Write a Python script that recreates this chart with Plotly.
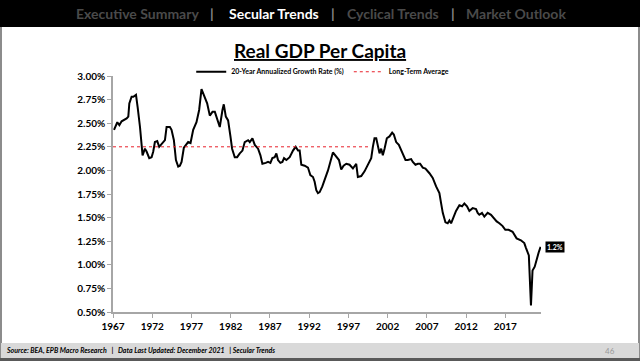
import plotly.graph_objects as go

# ---- data ----
years = [1967.13, 1967.55, 1967.81, 1968.10, 1968.74, 1968.95, 1969.08, 1969.37, 1969.59, 1969.93,
         1970.14, 1970.44, 1970.77, 1971.07, 1971.28, 1971.62, 1971.92, 1972.13, 1972.34, 1972.64,
         1972.89, 1973.19, 1973.62, 1973.83, 1974.25, 1974.46, 1974.76, 1975.02, 1975.31, 1975.52,
         1975.74, 1976.03, 1976.46, 1976.58, 1976.88, 1977.22, 1977.64, 1977.98, 1978.28, 1978.70,
         1979.00, 1979.34, 1979.68, 1979.98, 1980.40, 1980.61, 1980.95, 1981.12, 1981.38, 1981.67,
         1981.97, 1982.18, 1982.52, 1982.82, 1983.16, 1983.50, 1983.79, 1984.22, 1984.43, 1984.77,
         1985.07, 1985.49, 1985.79, 1986.04, 1986.47, 1986.76, 1987.06, 1987.31, 1987.61, 1987.82,
         1988.03, 1988.33, 1988.59, 1988.80, 1989.10, 1989.52, 1989.94, 1990.28, 1990.58, 1990.79,
         1991.00, 1991.43, 1991.85, 1992.15, 1992.49, 1992.70, 1992.91, 1993.12, 1993.34, 1993.68,
         1993.97, 1994.40, 1995.03, 1995.46, 1995.80, 1996.09, 1996.39, 1996.73, 1997.15, 1997.58,
         1997.79, 1998.00, 1998.21, 1998.64, 1999.06, 1999.49, 1999.70, 1999.91, 2000.12, 2000.33,
         2000.55, 2000.76, 2000.97, 2001.18, 2001.39, 2001.61, 2001.90, 2002.24, 2002.58, 2002.79,
         2003.09, 2003.43, 2003.73, 2003.94, 2004.28, 2004.57, 2005.00, 2005.21, 2005.55, 2005.85,
         2006.14, 2006.48, 2006.82, 2007.33, 2007.75, 2008.18, 2008.60, 2008.82, 2009.03, 2009.37,
         2009.66, 2009.88, 2010.09, 2010.38, 2010.72, 2011.15, 2011.49, 2011.78, 2012.12, 2012.42,
         2012.84, 2013.27, 2013.48, 2013.69, 2014.03, 2014.33, 2014.75, 2015.18, 2015.47, 2015.90,
         2016.24, 2016.66, 2017.00, 2017.42, 2017.93, 2018.44, 2018.99, 2019.42, 2019.63, 2019.84,
         2020.00, 2020.27, 2020.47, 2020.75, 2021.00, 2021.25, 2021.50]
growth = [2.43, 2.51, 2.48, 2.52, 2.55, 2.57, 2.71, 2.78, 2.78, 2.80,
          2.67, 2.46, 2.16, 2.23, 2.20, 2.13, 2.14, 2.20, 2.30, 2.31,
          2.25, 2.28, 2.32, 2.46, 2.46, 2.43, 2.32, 2.11, 2.04, 2.05,
          2.09, 2.24, 2.28, 2.30, 2.29, 2.43, 2.51, 2.64, 2.86, 2.78,
          2.71, 2.58, 2.62, 2.62, 2.50, 2.46, 2.64, 2.70, 2.57, 2.53,
          2.36, 2.23, 2.14, 2.14, 2.18, 2.21, 2.30, 2.32, 2.30, 2.34,
          2.27, 2.23, 2.16, 2.07, 2.08, 2.09, 2.08, 2.13, 2.14, 2.18,
          2.11, 2.08, 2.09, 2.13, 2.11, 2.14, 2.21, 2.25, 2.21, 2.21,
          2.06, 2.05, 2.03, 1.95, 1.93, 1.88, 1.79, 1.76, 1.77, 1.83,
          1.90, 2.00, 2.19, 2.14, 2.11, 2.01, 2.05, 2.07, 2.06, 2.02,
          2.05, 2.07, 1.93, 1.94, 1.99, 2.06, 2.11, 2.13, 2.25, 2.34,
          2.34, 2.27, 2.18, 2.23, 2.16, 2.23, 2.34, 2.36, 2.40, 2.38,
          2.30, 2.27, 2.21, 2.16, 2.11, 2.11, 2.12, 2.09, 2.06, 2.07,
          2.07, 2.03, 2.02, 1.97, 1.92, 1.83, 1.76, 1.65, 1.55, 1.45,
          1.44, 1.47, 1.44, 1.50, 1.57, 1.63, 1.62, 1.65, 1.62, 1.57,
          1.60, 1.59, 1.55, 1.53, 1.55, 1.51, 1.55, 1.53, 1.50, 1.46,
          1.44, 1.41, 1.37, 1.37, 1.35, 1.28, 1.26, 1.23, 1.18, 1.13,
          1.10, 0.57, 0.94, 0.98, 1.07, 1.13, 1.19]

avg_years = [1967.0, 1999.75]
avg_value = [2.25, 2.25]

x_ticks = [1967, 1972, 1977, 1982, 1987, 1992, 1997, 2002, 2007, 2012, 2017]
y_ticks = [0.50, 0.75, 1.00, 1.25, 1.50, 1.75, 2.00, 2.25, 2.50, 2.75, 3.00]
last_label = "1.2%"

FONT = "Lato"

fig = go.Figure()
fig.add_trace(go.Scatter(x=years, y=growth, mode="lines",
                         name="<b>20-Year Annualized Growth Rate (%)</b>",
                         line=dict(color="black", width=2)))
fig.add_trace(go.Scatter(x=avg_years, y=avg_value, mode="lines",
                         name="<b>Long-Term Average</b>",
                         line=dict(color="#e8202a", width=1, dash="dot")))

# plot area in pixels: x 113..541, y 76..312
L, R, T, B = 113, 541, 76, 312
W, H = R - L, B - T
def px(x): return (x - L) / W
def py(y): return (B - y) / H

shapes = [
    # slide frame
    dict(type="rect", xref="paper", yref="paper", x0=px(1), x1=px(639), y0=py(359), y1=py(26),
         line=dict(color="#8c8c8c", width=2), fillcolor="rgba(0,0,0,0)", layer="below"),
    # header bar
    dict(type="rect", xref="paper", yref="paper", x0=px(0), x1=px(640), y0=py(27), y1=py(0),
         line=dict(width=0), fillcolor="black", layer="below"),
    # footer bar
    dict(type="rect", xref="paper", yref="paper", x0=px(1), x1=px(639), y0=py(358), y1=py(343),
         line=dict(width=0), fillcolor="#d9d9d9", layer="below"),
    dict(type="line", xref="paper", yref="paper", x0=px(0), x1=px(640), y0=py(359.5), y1=py(359.5),
         line=dict(color="#595959", width=3)),
]

anns = []
hdr = [("Executive Summary", 137, "#4a4a4a"), ("|", 212, "#8a8a8a"),
       ("Secular Trends", 274, "white"), ("|", 333, "#8a8a8a"),
       ("Cyclical Trends", 393, "#4a4a4a"), ("|", 453, "#8a8a8a"),
       ("Market Outlook", 516, "#4a4a4a")]
for t, x, c in hdr:
    anns.append(dict(text=f"<b>{t}</b>", x=px(x), y=py(13.5), xref="paper", yref="paper",
                     showarrow=False, xanchor="center", yanchor="middle",
                     font=dict(family=FONT, size=14, color=c)))
anns.append(dict(text="<b><u>Real GDP Per Capita</u></b>", x=px(320), y=py(50), xref="paper", yref="paper",
                 showarrow=False, xanchor="center", yanchor="middle",
                 font=dict(family=FONT, size=19, color="black")))
anns.append(dict(text="<b><i>Source: BEA, EPB Macro Research   |   Data Last Updated: December 2021   | Secular Trends</i></b>",
                 x=px(4), y=py(350.5), xref="paper", yref="paper", showarrow=False,
                 xanchor="left", yanchor="middle", font=dict(family=FONT, size=7, color="black")))
anns.append(dict(text="46", x=px(617), y=py(350.5), xref="paper", yref="paper", showarrow=False,
                 xanchor="right", yanchor="middle", font=dict(family=FONT, size=8, color="#9a9a9a")))
anns.append(dict(text=f"<b>{last_label}</b>", x=years[-1], y=growth[-1], xref="x", yref="y",
                 showarrow=False, xanchor="left", yanchor="middle", xshift=4,
                 bgcolor="black", borderpad=1,
                 font=dict(family=FONT, size=7, color="white")))

fig.update_layout(
    width=640, height=361,
    margin=dict(l=L, r=640 - R, t=T, b=361 - B),
    paper_bgcolor="white", plot_bgcolor="white",
    showlegend=True,
    legend=dict(orientation="h", x=0.49, y=1.018, xanchor="center", yanchor="middle",
                font=dict(family=FONT, size=7, color="black"), bgcolor="rgba(0,0,0,0)",
                itemwidth=30, tracegroupgap=0),
    shapes=shapes, annotations=anns,
    font=dict(family=FONT),
)
fig.update_xaxes(range=[1967, 2021.55], tickvals=x_ticks, ticktext=[f"<b>{v}</b>" for v in x_ticks],
                 showgrid=False, zeroline=False, showline=True, linecolor="#a6a6a6", linewidth=1.5,
                 ticks="outside", ticklen=4, tickcolor="#a6a6a6",
                 tickfont=dict(family=FONT, size=10, color="black"))
fig.update_yaxes(range=[0.5, 3.0], tickvals=y_ticks, ticktext=[f"<b>{v:.2f}%</b>" for v in y_ticks],
                 showgrid=False, zeroline=False, showline=True, linecolor="#a6a6a6", linewidth=1.5,
                 ticks="outside", ticklen=4, tickcolor="#a6a6a6",
                 tickfont=dict(family=FONT, size=10, color="black"))

fig.write_html("out.html", config={"displayModeBar": False},
               post_script="document.body.style.margin='0';document.body.style.overflow='hidden';")
